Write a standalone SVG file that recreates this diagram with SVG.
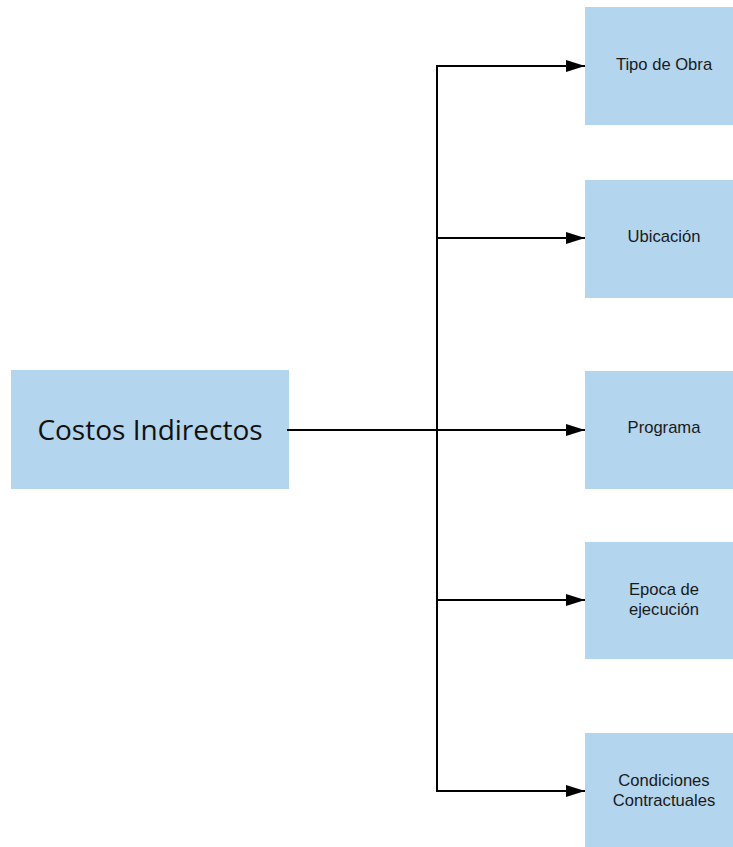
<svg xmlns="http://www.w3.org/2000/svg" width="733" height="847" viewBox="0 0 733 847">
<defs>
<style>
.box{fill:#b3d5ee;}
.lbl{font-family:"Liberation Sans",Arial,sans-serif;font-size:16.6px;fill:#1a1a1a;text-anchor:middle;}
.main{font-family:"Open Sans","Noto Sans",sans-serif;font-size:28px;fill:#111;text-anchor:middle;}
.ln{stroke:#000;stroke-width:2;fill:none;}
</style>
<marker id="ah" markerWidth="20" markerHeight="14" refX="19" refY="7" orient="auto" markerUnits="userSpaceOnUse">
<path d="M0,1 L19,7 L0,13 Z" fill="#000"/>
</marker>
</defs>
<rect width="733" height="847" fill="#fff"/>
<g id="costos">
<rect class="box" x="11" y="370" width="278" height="119"/>
<text class="main" x="150" y="440">Costos Indirectos</text>
</g>
<g id="tipo">
<rect class="box" x="585" y="7" width="158" height="118"/>
<text class="lbl" x="664" y="70">Tipo de Obra</text>
</g>
<g id="ubicacion">
<rect class="box" x="585" y="180" width="158" height="118"/>
<text class="lbl" x="664" y="242">Ubicación</text>
</g>
<g id="programa">
<rect class="box" x="585" y="371" width="158" height="118"/>
<text class="lbl" x="664" y="433">Programa</text>
</g>
<g id="epoca">
<rect class="box" x="585" y="542" width="158" height="117"/>
<text class="lbl" x="664" y="595">Epoca de</text>
<text class="lbl" x="664" y="615">ejecución</text>
</g>
<g id="condiciones">
<rect class="box" x="585" y="733" width="158" height="120"/>
<text class="lbl" x="664" y="786">Condiciones</text>
<text class="lbl" x="664" y="806">Contractuales</text>
</g>
<g id="connectors">
<path class="ln" d="M287,430 H585" marker-end="url(#ah)"/>
<path class="ln" d="M437,66 V791"/>
<path class="ln" d="M436,66 H585" marker-end="url(#ah)"/>
<path class="ln" d="M437,238 H585" marker-end="url(#ah)"/>
<path class="ln" d="M437,600 H585" marker-end="url(#ah)"/>
<path class="ln" d="M436,791 H585" marker-end="url(#ah)"/>
</g>
</svg>
